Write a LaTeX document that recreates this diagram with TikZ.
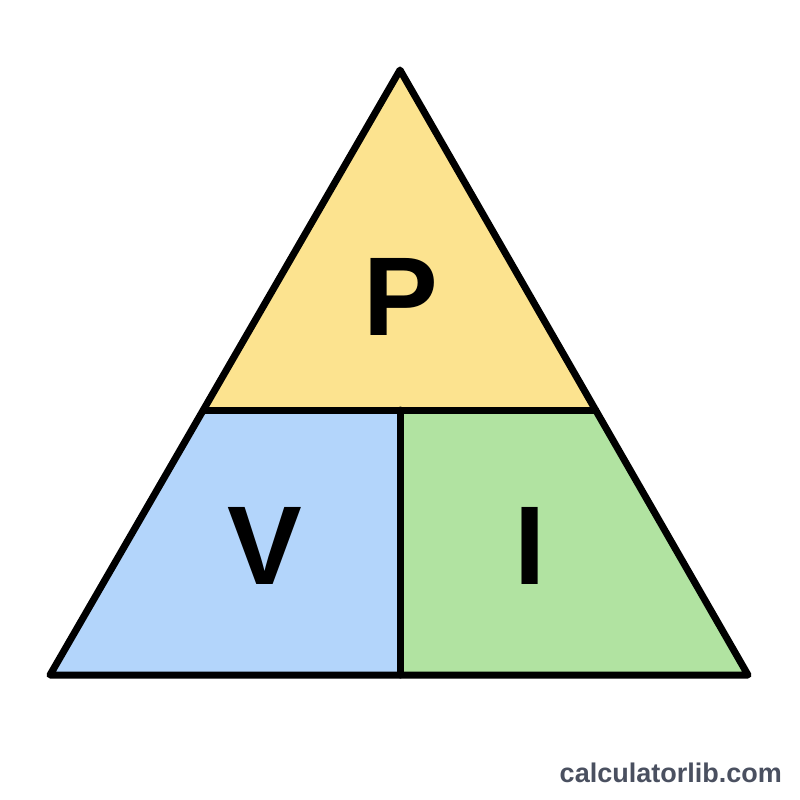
\documentclass[tikz,border=0pt]{standalone}
\usepackage{fontspec}
\setmainfont{Liberation Sans}
\definecolor{ylw}{HTML}{FCE38F}
\definecolor{blu}{HTML}{B3D5FB}
\definecolor{grn}{HTML}{B1E3A1}
\definecolor{wm}{HTML}{4A5060}
\begin{document}
\begin{tikzpicture}[x=1pt,y=-1pt,
  edge/.style={draw=black,line width=7pt,line join=round,line cap=round},
  lbl/.style={font=\fontsize{112}{112}\selectfont\bfseries,text=black,inner sep=0pt}]
\useasboundingbox[fill=white] (0,0) rectangle (800,800);
\coordinate (A) at (400,70);
\coordinate (BL) at (50,675);
\coordinate (BR) at (748,675);
\coordinate (ML) at (203.3,410);
\coordinate (MR) at (595.6,410);
\coordinate (MM) at (400,410);
\coordinate (BM) at (400,675);
\fill[ylw] (A) -- (MR) -- (ML) -- cycle;
\fill[blu] (ML) -- (MM) -- (BM) -- (BL) -- cycle;
\fill[grn] (MM) -- (MR) -- (BR) -- (BM) -- cycle;
\draw[edge] (A) -- (BR) -- (BL) -- cycle;
\draw[edge] (ML) -- (MR);
\draw[edge] (MM) -- (BM);
\node[lbl,anchor=base] (P) at (401,335) {P};
\node[lbl,anchor=base] (V) at (265,584) {V};
\node[lbl,anchor=base] (I) at (530,584) {I};
\node[anchor=base east,inner sep=0pt,text=wm,font=\fontsize{27}{27}\selectfont\bfseries] (W) at (782,782) {calculatorlib.com};
\end{tikzpicture}
\end{document}
